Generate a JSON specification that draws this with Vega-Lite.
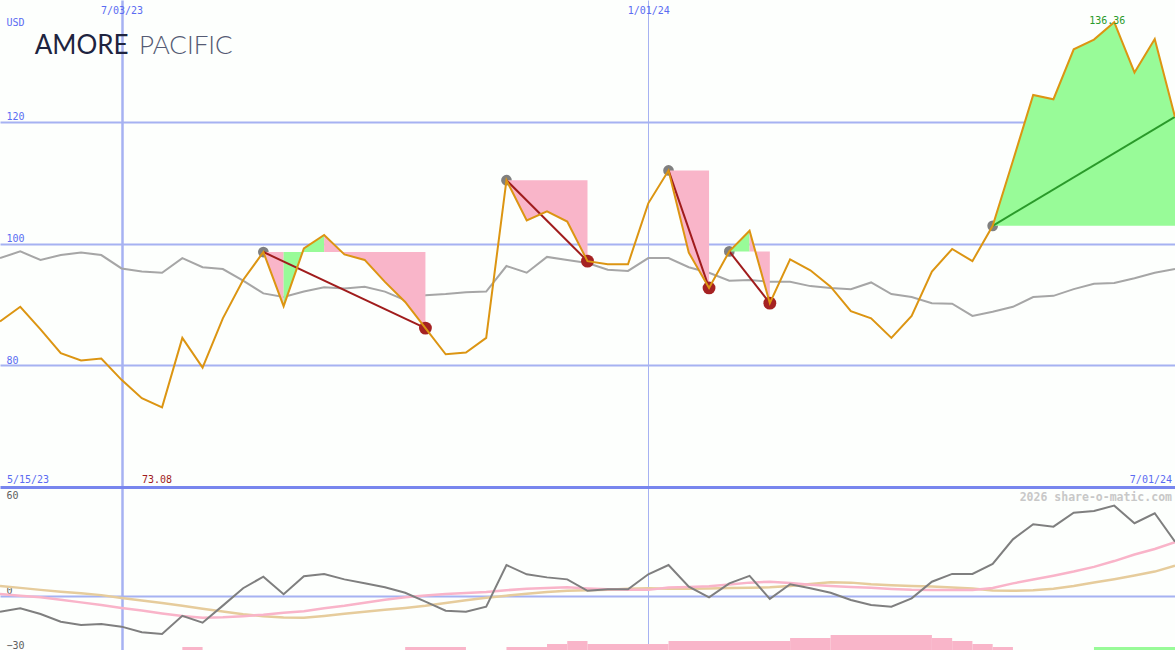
{
  "$schema": "https://vega.github.io/schema/vega-lite/v6.json",
  "padding": 0,
  "spacing": 0,
  "bounds": "flush",
  "background": "#fdfffd",
  "config": {
    "view": {"stroke": null},
    "axis": {"labelFont": "DejaVu Sans Mono", "labelFontSize": 10, "titleFont": "DejaVu Sans Mono"}
  },
  "datasets": {
    "weekly": [
      {"date": "2023-05-22", "price": 87.2, "bench": 97.6, "mom": -8.9, "fast": 0.9, "slow": 5.3},
      {"date": "2023-05-29", "price": 89.6, "bench": 98.7, "mom": -7.0, "fast": -0.1, "slow": 4.3},
      {"date": "2023-06-05", "price": 85.9, "bench": 97.3, "mom": -10.1, "fast": -0.9, "slow": 3.2},
      {"date": "2023-06-12", "price": 82.0, "bench": 98.1, "mom": -14.4, "fast": -2.2, "slow": 2.2},
      {"date": "2023-06-19", "price": 80.8, "bench": 98.5, "mom": -16.2, "fast": -3.7, "slow": 1.3},
      {"date": "2023-06-26", "price": 81.1, "bench": 98.1, "mom": -15.6, "fast": -5.2, "slow": 0.3},
      {"date": "2023-07-03", "price": 77.6, "bench": 95.9, "mom": -17.1, "fast": -6.8, "slow": -1.3},
      {"date": "2023-07-10", "price": 74.6, "bench": 95.4, "mom": -20.2, "fast": -8.2, "slow": -2.7},
      {"date": "2023-07-17", "price": 73.08, "bench": 95.2, "mom": -21.2, "fast": -9.8, "slow": -4.1},
      {"date": "2023-07-24", "price": 84.5, "bench": 97.6, "mom": -11.1, "fast": -11.2, "slow": -5.6},
      {"date": "2023-07-31", "price": 79.6, "bench": 96.1, "mom": -14.9, "fast": -12.2, "slow": -7.2},
      {"date": "2023-08-07", "price": 87.7, "bench": 95.8, "mom": -5.5, "fast": -11.9, "slow": -8.7},
      {"date": "2023-08-14", "price": 94.0, "bench": 93.9, "mom": 4.1, "fast": -11.3, "slow": -10.2},
      {"date": "2023-08-21", "price": 98.6, "bench": 91.8, "mom": 10.5, "fast": -10.5, "slow": -11.3},
      {"date": "2023-08-28", "price": 89.7, "bench": 91.2, "mom": 0.8, "fast": -9.4, "slow": -12.0},
      {"date": "2023-09-04", "price": 99.2, "bench": 92.1, "mom": 10.7, "fast": -8.6, "slow": -12.2},
      {"date": "2023-09-11", "price": 101.4, "bench": 92.8, "mom": 12.0, "fast": -7.0, "slow": -11.2},
      {"date": "2023-09-18", "price": 98.2, "bench": 92.6, "mom": 9.0, "fast": -5.6, "slow": -10.0},
      {"date": "2023-09-25", "price": 97.3, "bench": 92.9, "mom": 6.8, "fast": -3.9, "slow": -8.9},
      {"date": "2023-10-02", "price": 93.7, "bench": 92.1, "mom": 4.6, "fast": -2.3, "slow": -7.8},
      {"date": "2023-10-09", "price": 90.4, "bench": 90.7, "mom": 1.6, "fast": -0.9, "slow": -6.8},
      {"date": "2023-10-16", "price": 86.1, "bench": 91.5, "mom": -3.3, "fast": 0.1, "slow": -5.6},
      {"date": "2023-10-23", "price": 81.8, "bench": 91.7, "mom": -8.3, "fast": 0.9, "slow": -4.1},
      {"date": "2023-10-30", "price": 82.1, "bench": 92.0, "mom": -8.9, "fast": 1.5, "slow": -2.5},
      {"date": "2023-11-06", "price": 84.5, "bench": 92.1, "mom": -6.1, "fast": 2.0, "slow": -1.1},
      {"date": "2023-11-13", "price": 110.4, "bench": 96.3, "mom": 16.9, "fast": 3.0, "slow": 0.0},
      {"date": "2023-11-20", "price": 103.8, "bench": 95.2, "mom": 11.8, "fast": 3.8, "slow": 1.0},
      {"date": "2023-11-27", "price": 105.3, "bench": 97.8, "mom": 10.1, "fast": 4.3, "slow": 2.0},
      {"date": "2023-12-04", "price": 103.6, "bench": 97.3, "mom": 9.0, "fast": 4.6, "slow": 2.7},
      {"date": "2023-12-11", "price": 97.1, "bench": 96.8, "mom": 2.7, "fast": 4.0, "slow": 3.0},
      {"date": "2023-12-18", "price": 96.6, "bench": 95.7, "mom": 3.5, "fast": 3.6, "slow": 3.3},
      {"date": "2023-12-25", "price": 96.6, "bench": 95.5, "mom": 3.5, "fast": 3.3, "slow": 3.8},
      {"date": "2024-01-01", "price": 106.6, "bench": 97.6, "mom": 11.8, "fast": 3.2, "slow": 4.1},
      {"date": "2024-01-08", "price": 112.0, "bench": 97.6, "mom": 16.9, "fast": 4.5, "slow": 3.8},
      {"date": "2024-01-15", "price": 98.5, "bench": 96.1, "mom": 5.0, "fast": 4.8, "slow": 3.8},
      {"date": "2024-01-22", "price": 92.7, "bench": 95.2, "mom": -0.9, "fast": 5.2, "slow": 4.0},
      {"date": "2024-01-29", "price": 98.7, "bench": 93.9, "mom": 6.8, "fast": 6.2, "slow": 4.2},
      {"date": "2024-02-05", "price": 102.1, "bench": 94.0, "mom": 10.9, "fast": 7.2, "slow": 4.4},
      {"date": "2024-02-12", "price": 90.2, "bench": 93.7, "mom": -1.8, "fast": 7.7, "slow": 4.6},
      {"date": "2024-02-19", "price": 97.4, "bench": 93.7, "mom": 6.3, "fast": 7.0, "slow": 5.3},
      {"date": "2024-02-26", "price": 95.6, "bench": 93.0, "mom": 4.1, "fast": 6.0, "slow": 6.4},
      {"date": "2024-03-04", "price": 92.9, "bench": 92.7, "mom": 1.6, "fast": 5.4, "slow": 7.4},
      {"date": "2024-03-11", "price": 88.9, "bench": 92.5, "mom": -2.4, "fast": 4.8, "slow": 7.2},
      {"date": "2024-03-18", "price": 87.7, "bench": 93.6, "mom": -5.2, "fast": 4.4, "slow": 6.3},
      {"date": "2024-03-25", "price": 84.5, "bench": 91.7, "mom": -6.1, "fast": 3.7, "slow": 5.8},
      {"date": "2024-04-01", "price": 88.1, "bench": 91.2, "mom": -1.5, "fast": 3.2, "slow": 5.4},
      {"date": "2024-04-08", "price": 95.4, "bench": 90.2, "mom": 7.7, "fast": 3.1, "slow": 5.0},
      {"date": "2024-04-15", "price": 99.1, "bench": 90.1, "mom": 12.0, "fast": 3.1, "slow": 4.5},
      {"date": "2024-04-22", "price": 97.1, "bench": 88.1, "mom": 12.0, "fast": 3.1, "slow": 3.9},
      {"date": "2024-04-29", "price": 102.9, "bench": 88.8, "mom": 17.5, "fast": 4.2, "slow": 2.9},
      {"date": "2024-05-06", "price": 113.6, "bench": 89.6, "mom": 31.1, "fast": 6.8, "slow": 2.7},
      {"date": "2024-05-13", "price": 124.4, "bench": 91.2, "mom": 39.4, "fast": 8.9, "slow": 3.0},
      {"date": "2024-05-20", "price": 123.7, "bench": 91.4, "mom": 38.1, "fast": 11.0, "slow": 3.8},
      {"date": "2024-05-27", "price": 131.9, "bench": 92.5, "mom": 45.8, "fast": 13.3, "slow": 5.3},
      {"date": "2024-06-03", "price": 133.5, "bench": 93.4, "mom": 46.8, "fast": 15.9, "slow": 7.3},
      {"date": "2024-06-10", "price": 136.36, "bench": 93.5, "mom": 49.7, "fast": 19.1, "slow": 9.1},
      {"date": "2024-06-17", "price": 128.1, "bench": 94.3, "mom": 40.0, "fast": 22.7, "slow": 11.1},
      {"date": "2024-06-24", "price": 133.6, "bench": 95.2, "mom": 45.5, "fast": 25.8, "slow": 13.3},
      {"date": "2024-07-01", "price": 120.8, "bench": 95.8, "mom": 29.8, "fast": 29.5, "slow": 16.6}
    ],
    "fills": [
      {"seg": "a1", "kind": "loss", "date": "2023-08-21", "price": 98.6, "level": 98.6},
      {"seg": "a1", "kind": "loss", "date": "2023-08-28", "price": 89.7, "level": 98.6},
      {"seg": "a2", "kind": "gain", "date": "2023-08-28", "price": 89.7, "level": 98.6},
      {"seg": "a2", "kind": "gain", "date": "2023-09-04", "price": 99.2, "level": 98.6},
      {"seg": "a2", "kind": "gain", "date": "2023-09-11", "price": 101.4, "level": 98.6},
      {"seg": "a3", "kind": "loss", "date": "2023-09-11", "price": 101.4, "level": 98.6},
      {"seg": "a3", "kind": "loss", "date": "2023-09-18", "price": 98.2, "level": 98.6},
      {"seg": "a3", "kind": "loss", "date": "2023-09-25", "price": 97.3, "level": 98.6},
      {"seg": "a3", "kind": "loss", "date": "2023-10-02", "price": 93.7, "level": 98.6},
      {"seg": "a3", "kind": "loss", "date": "2023-10-09", "price": 90.4, "level": 98.6},
      {"seg": "a3", "kind": "loss", "date": "2023-10-16", "price": 86.1, "level": 98.6},
      {"seg": "b1", "kind": "loss", "date": "2023-11-13", "price": 110.4, "level": 110.4},
      {"seg": "b1", "kind": "loss", "date": "2023-11-20", "price": 103.8, "level": 110.4},
      {"seg": "b1", "kind": "loss", "date": "2023-11-27", "price": 105.3, "level": 110.4},
      {"seg": "b1", "kind": "loss", "date": "2023-12-04", "price": 103.6, "level": 110.4},
      {"seg": "b1", "kind": "loss", "date": "2023-12-11", "price": 97.1, "level": 110.4},
      {"seg": "c1", "kind": "loss", "date": "2024-01-08", "price": 112.0, "level": 112.0},
      {"seg": "c1", "kind": "loss", "date": "2024-01-15", "price": 98.5, "level": 112.0},
      {"seg": "c1", "kind": "loss", "date": "2024-01-22", "price": 92.7, "level": 112.0},
      {"seg": "d1", "kind": "gain", "date": "2024-01-29", "price": 98.7, "level": 98.7},
      {"seg": "d1", "kind": "gain", "date": "2024-02-05", "price": 102.1, "level": 98.7},
      {"seg": "d2", "kind": "loss", "date": "2024-02-05", "price": 102.1, "level": 98.7},
      {"seg": "d2", "kind": "loss", "date": "2024-02-12", "price": 90.2, "level": 98.7},
      {"seg": "e1", "kind": "gain", "date": "2024-04-29", "price": 102.9, "level": 102.9},
      {"seg": "e1", "kind": "gain", "date": "2024-05-06", "price": 113.6, "level": 102.9},
      {"seg": "e1", "kind": "gain", "date": "2024-05-13", "price": 124.4, "level": 102.9},
      {"seg": "e1", "kind": "gain", "date": "2024-05-20", "price": 123.7, "level": 102.9},
      {"seg": "e1", "kind": "gain", "date": "2024-05-27", "price": 131.9, "level": 102.9},
      {"seg": "e1", "kind": "gain", "date": "2024-06-03", "price": 133.5, "level": 102.9},
      {"seg": "e1", "kind": "gain", "date": "2024-06-10", "price": 136.36, "level": 102.9},
      {"seg": "e1", "kind": "gain", "date": "2024-06-17", "price": 128.1, "level": 102.9},
      {"seg": "e1", "kind": "gain", "date": "2024-06-24", "price": 133.6, "level": 102.9},
      {"seg": "e1", "kind": "gain", "date": "2024-07-01", "price": 120.8, "level": 102.9}
    ],
    "moves": [
      {"move": "m1", "kind": "loss", "role": "peak", "date": "2023-08-21", "price": 98.6},
      {"move": "m1", "kind": "loss", "role": "trough", "date": "2023-10-16", "price": 86.1},
      {"move": "m2", "kind": "loss", "role": "peak", "date": "2023-11-13", "price": 110.4},
      {"move": "m2", "kind": "loss", "role": "trough", "date": "2023-12-11", "price": 97.1},
      {"move": "m3", "kind": "loss", "role": "peak", "date": "2024-01-08", "price": 112.0},
      {"move": "m3", "kind": "loss", "role": "trough", "date": "2024-01-22", "price": 92.7},
      {"move": "m4", "kind": "loss", "role": "peak", "date": "2024-01-29", "price": 98.7},
      {"move": "m4", "kind": "loss", "role": "trough", "date": "2024-02-12", "price": 90.2},
      {"move": "m5", "kind": "gain", "role": "peak", "date": "2024-04-29", "price": 102.9},
      {"move": "m5", "kind": "gain", "role": "end", "date": "2024-07-01", "price": 120.8}
    ],
    "bars": [
      {"start": "2023-07-24", "end": "2023-07-31", "top": -28.34, "kind": "loss"},
      {"start": "2023-10-09", "end": "2023-10-30", "top": -28.34, "kind": "loss"},
      {"start": "2023-11-13", "end": "2023-11-27", "top": -28.34, "kind": "loss"},
      {"start": "2023-11-27", "end": "2023-12-04", "top": -26.69, "kind": "loss"},
      {"start": "2023-12-04", "end": "2023-12-11", "top": -25.03, "kind": "loss"},
      {"start": "2023-12-11", "end": "2024-01-08", "top": -26.69, "kind": "loss"},
      {"start": "2024-01-08", "end": "2024-02-19", "top": -25.03, "kind": "loss"},
      {"start": "2024-02-19", "end": "2024-03-04", "top": -23.37, "kind": "loss"},
      {"start": "2024-03-04", "end": "2024-04-08", "top": -21.72, "kind": "loss"},
      {"start": "2024-04-08", "end": "2024-04-15", "top": -23.37, "kind": "loss"},
      {"start": "2024-04-15", "end": "2024-04-22", "top": -25.03, "kind": "loss"},
      {"start": "2024-04-22", "end": "2024-04-29", "top": -26.69, "kind": "loss"},
      {"start": "2024-04-29", "end": "2024-05-06", "top": -28.34, "kind": "loss"},
      {"start": "2024-06-03", "end": "2024-07-01", "top": -28.34, "kind": "gain"}
    ],
    "notes": [
      {"part": "logo1", "date": "2023-06-03", "value": 131.1, "label": "AMORE"},
      {"part": "logo2", "date": "2023-07-09", "value": 131.1, "label": "PACIFIC"},
      {"part": "min", "date": "2023-07-17", "value": 60, "label": "73.08"},
      {"part": "max", "date": "2024-06-10", "value": 136.36, "label": "136.36"},
      {"part": "first", "date": "2023-05-22", "value": 60, "label": "5/15/23"},
      {"part": "last", "date": "2024-07-01", "value": 60, "label": "7/01/24"}
    ],
    "credit": [
      {"date": "2024-07-01", "value": 60, "label": "2026 share-o-matic.com"}
    ]
  },
  "vconcat": [
    {
      "width": 1175,
      "height": 487,
      "layer": [
        {
          "data": {"name": "weekly"},
          "mark": {"type": "line", "color": "#a6a6a6", "strokeWidth": 2, "clip": true},
          "encoding": {
            "x": {
              "field": "date", "type": "temporal",
              "scale": {"type": "utc", "domain": [{"year": 2023, "month": 5, "date": 22, "utc": true}, {"year": 2024, "month": 7, "date": 1, "utc": true}]},
              "axis": {
                "orient": "top", "title": null,
                "values": [{"year": 2023, "month": 7, "date": 3, "utc": true}, {"year": 2024, "month": 1, "date": 1, "utc": true}],
                "labelExpr": "utcFormat(datum.value, '%-m/%d/%y')",
                "domain": false, "ticks": false, "tickSize": 0,
                "labelPadding": -15, "labelBaseline": "bottom", "labelAlign": "center", "labelFlush": false,
                "labelColor": "#5b6cf2",
                "grid": true, "gridColor": "#a6b2f2",
                "gridWidth": {"condition": {"test": "utcmonth(datum.value) == 6", "value": 2.5}, "value": 1}
              }
            },
            "y": {
              "field": "bench", "type": "quantitative",
              "scale": {"domain": [60, 140], "nice": false, "zero": false},
              "axis": {
                "values": [80, 100, 120],
                "domain": false, "ticks": false, "tickSize": 0,
                "labelAlign": "left", "labelBaseline": "bottom", "labelPadding": -6,
                "labelColor": "#5b6cf2",
                "grid": true, "gridColor": "#a6b2f2", "gridWidth": 2,
                "title": "USD", "titleAngle": 0, "titleX": 6, "titleY": 25,
                "titleAlign": "left", "titleBaseline": "alphabetic",
                "titleFontSize": 10, "titleFontWeight": "normal", "titleColor": "#5b6cf2"
              }
            }
          }
        },
        {
          "data": {"name": "moves"},
          "transform": [{"filter": "datum.role == 'peak'"}],
          "mark": {"type": "circle", "color": "#808080", "size": 115, "opacity": 1},
          "encoding": {
            "x": {"field": "date", "type": "temporal"},
            "y": {"field": "price", "type": "quantitative"}
          }
        },
        {
          "data": {"name": "fills"},
          "mark": {"type": "area", "opacity": 1, "clip": true},
          "encoding": {
            "x": {"field": "date", "type": "temporal"},
            "y": {"field": "price", "type": "quantitative", "stack": null},
            "y2": {"field": "level"},
            "detail": {"field": "seg"},
            "color": {"field": "kind", "type": "nominal", "scale": {"domain": ["gain", "loss"], "range": ["#98fb98", "#f9b5c9"]}, "legend": null}
          }
        },
        {
          "data": {"name": "moves"},
          "mark": {"type": "line", "strokeWidth": 2, "clip": true},
          "encoding": {
            "x": {"field": "date", "type": "temporal"},
            "y": {"field": "price", "type": "quantitative"},
            "detail": {"field": "move"},
            "stroke": {"field": "kind", "type": "nominal", "scale": {"domain": ["gain", "loss"], "range": ["#2a9a2a", "#a01c1c"]}, "legend": null}
          }
        },
        {
          "data": {"name": "moves"},
          "transform": [{"filter": "datum.role == 'trough'"}],
          "mark": {"type": "circle", "color": "#a52222", "size": 165, "opacity": 1},
          "encoding": {
            "x": {"field": "date", "type": "temporal"},
            "y": {"field": "price", "type": "quantitative"}
          }
        },
        {
          "data": {"name": "weekly"},
          "mark": {"type": "line", "color": "#dc9512", "strokeWidth": 2, "clip": true},
          "encoding": {
            "x": {"field": "date", "type": "temporal"},
            "y": {"field": "price", "type": "quantitative"}
          }
        },
        {
          "data": {"name": "notes"},
          "transform": [{"filter": "datum.part == 'logo1'"}],
          "mark": {"type": "text", "font": "Lato", "fontSize": 26, "fontWeight": 400, "color": "#1e2440", "align": "left", "baseline": "alphabetic"},
          "encoding": {
            "x": {"field": "date", "type": "temporal"},
            "y": {"field": "value", "type": "quantitative"},
            "text": {"field": "label"}
          }
        },
        {
          "data": {"name": "notes"},
          "transform": [{"filter": "datum.part == 'logo2'"}],
          "mark": {"type": "text", "font": "Lato", "fontSize": 26, "fontWeight": 300, "color": "#555b74", "align": "left", "baseline": "alphabetic"},
          "encoding": {
            "x": {"field": "date", "type": "temporal"},
            "y": {"field": "value", "type": "quantitative"},
            "text": {"field": "label"}
          }
        },
        {
          "data": {"name": "notes"},
          "transform": [{"filter": "datum.part == 'min'"}],
          "mark": {"type": "text", "font": "DejaVu Sans Mono", "fontSize": 10, "color": "#a01c1c", "align": "center", "baseline": "alphabetic", "dx": -5, "dy": -4},
          "encoding": {
            "x": {"field": "date", "type": "temporal"},
            "y": {"field": "value", "type": "quantitative"},
            "text": {"field": "label"}
          }
        },
        {
          "data": {"name": "notes"},
          "transform": [{"filter": "datum.part == 'max'"}],
          "mark": {"type": "text", "font": "DejaVu Sans Mono", "fontSize": 10, "color": "#2a9a2a", "align": "center", "baseline": "alphabetic", "dx": -7, "dy": 2},
          "encoding": {
            "x": {"field": "date", "type": "temporal"},
            "y": {"field": "value", "type": "quantitative"},
            "text": {"field": "label"}
          }
        },
        {
          "data": {"name": "notes"},
          "transform": [{"filter": "datum.part == 'first'"}],
          "mark": {"type": "text", "font": "DejaVu Sans Mono", "fontSize": 10, "color": "#5b6cf2", "align": "left", "baseline": "alphabetic", "dx": 7, "dy": -4},
          "encoding": {
            "x": {"field": "date", "type": "temporal"},
            "y": {"field": "value", "type": "quantitative"},
            "text": {"field": "label"}
          }
        },
        {
          "data": {"name": "notes"},
          "transform": [{"filter": "datum.part == 'last'"}],
          "mark": {"type": "text", "font": "DejaVu Sans Mono", "fontSize": 10, "color": "#5b6cf2", "align": "right", "baseline": "alphabetic", "dx": -3, "dy": -4},
          "encoding": {
            "x": {"field": "date", "type": "temporal"},
            "y": {"field": "value", "type": "quantitative"},
            "text": {"field": "label"}
          }
        }
      ]
    },
    {
      "width": 1175,
      "height": 163,
      "layer": [
        {
          "data": {"name": "bars"},
          "mark": {"type": "rect"},
          "encoding": {
            "x": {
              "field": "start", "type": "temporal",
              "scale": {"type": "utc", "domain": [{"year": 2023, "month": 5, "date": 22, "utc": true}, {"year": 2024, "month": 7, "date": 1, "utc": true}]},
              "axis": {
                "orient": "top", "title": null, "labels": false, "ticks": false, "tickSize": 0,
                "values": [{"year": 2023, "month": 7, "date": 3, "utc": true}, {"year": 2024, "month": 1, "date": 1, "utc": true}],
                "domain": true, "domainColor": "#7886ee", "domainWidth": 3,
                "grid": true, "gridColor": "#a6b2f2",
                "gridWidth": {"condition": {"test": "utcmonth(datum.value) == 6", "value": 2.5}, "value": 1}
              }
            },
            "x2": {"field": "end"},
            "y": {
              "field": "top", "type": "quantitative",
              "scale": {"domain": [-30, 60], "nice": false, "zero": false},
              "axis": {
                "title": null,
                "values": [-30, 0, 60],
                "domain": false, "ticks": false, "tickSize": 0,
                "labelAlign": "left", "labelPadding": -6,
                "labelBaseline": {"condition": {"test": "datum.value == 60", "value": "top"}, "value": "bottom"},
                "labelOffset": {"condition": {"test": "datum.value == 60", "value": 3}, "value": 0},
                "labelColor": "#606060",
                "grid": true, "gridColor": "#a6b2f2", "gridWidth": 2,
                "gridOpacity": {"condition": {"test": "datum.value == 0", "value": 1}, "value": 0}
              }
            },
            "y2": {"datum": -30},
            "color": {"field": "kind", "type": "nominal", "scale": {"domain": ["gain", "loss"], "range": ["#98fb98", "#f9b5c9"]}, "legend": null}
          }
        },
        {
          "data": {"name": "weekly"},
          "mark": {"type": "line", "color": "#e6cc9c", "strokeWidth": 2.5, "clip": true},
          "encoding": {
            "x": {"field": "date", "type": "temporal"},
            "y": {"field": "slow", "type": "quantitative"}
          }
        },
        {
          "data": {"name": "weekly"},
          "mark": {"type": "line", "color": "#f9b4c9", "strokeWidth": 2.5, "clip": true},
          "encoding": {
            "x": {"field": "date", "type": "temporal"},
            "y": {"field": "fast", "type": "quantitative"}
          }
        },
        {
          "data": {"name": "weekly"},
          "mark": {"type": "line", "color": "#7f7f7f", "strokeWidth": 2, "clip": true},
          "encoding": {
            "x": {"field": "date", "type": "temporal"},
            "y": {"field": "mom", "type": "quantitative"}
          }
        },
        {
          "data": {"name": "credit"},
          "mark": {"type": "text", "font": "DejaVu Sans Mono", "fontSize": 11.5, "fontWeight": "bold", "color": "#c8c8c8", "align": "right", "baseline": "alphabetic", "dx": -3, "dy": 13.5},
          "encoding": {
            "x": {"field": "date", "type": "temporal"},
            "y": {"field": "value", "type": "quantitative"},
            "text": {"field": "label"}
          }
        }
      ]
    }
  ]
}
